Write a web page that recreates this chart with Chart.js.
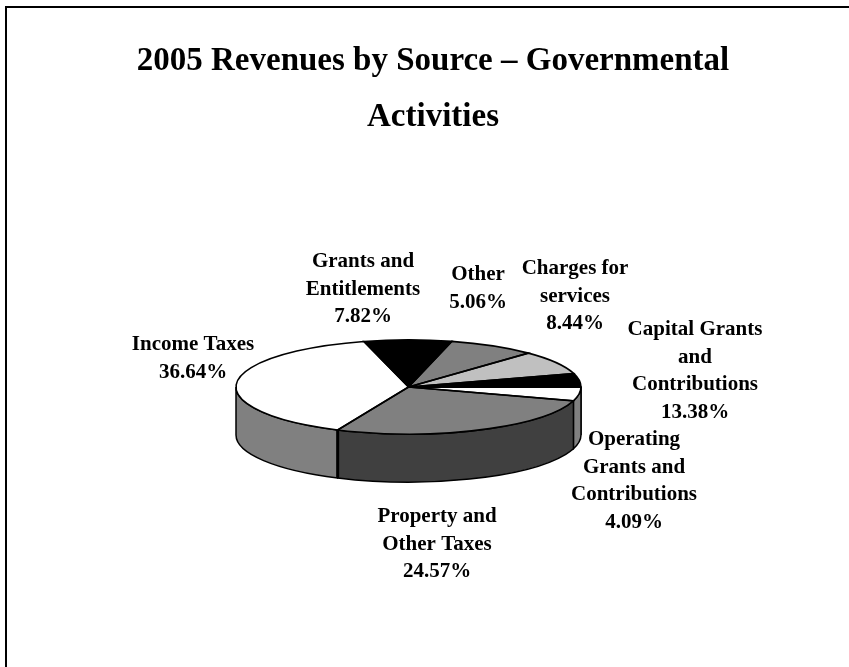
<!DOCTYPE html>
<html>
<head>
<meta charset="utf-8">
<title>2005 Revenues by Source</title>
<script src="https://cdn.jsdelivr.net/npm/chart.js@4/dist/chart.umd.js"></script>
<style>
  html, body { margin: 0; padding: 0; background: #fff; overflow: hidden; }
  #marco { position: absolute; left: 5px; top: 6px; right: 0; bottom: 0; border-left: 2px solid #000; border-top: 2px solid #000; }
  canvas { position: absolute; left: 0; top: 0; }
</style>
</head>
<body>
<div id="marco"></div>
<canvas id="myChart" width="849" height="667"></canvas>
<script>
const titulo = ['2005 Revenues by Source \u2013 Governmental', 'Activities'];

const categorias = ['Grants and Entitlements', 'Other', 'Charges for services', 'Capital Grants and Contributions',
    'Operating Grants and Contributions', 'Property and Other Taxes', 'Income Taxes'];

// percentages as printed in the labels
const porcentajes = ['7.82%', '5.06%', '8.44%', '13.38%', '4.09%', '24.57%', '36.64%'];

// slice sizes as they are drawn in the picture (they do not follow the printed labels)
const valores = [8.2, 8.2, 8.2, 4.6, 4.7, 27.0, 39.1];

const coloresTapa = ['#000000', '#808080', '#c0c0c0', '#000000', '#ffffff', '#808080', '#ffffff'];
const coloresPared = ['#000000', '#808080', '#c0c0c0', '#000000', '#808080', '#404040', '#808080'];

const lineasEtiqueta = [
    ['Grants and', 'Entitlements'],
    ['Other'],
    ['Charges for', 'services'],
    ['Capital Grants', 'and', 'Contributions'],
    ['Operating', 'Grants and', 'Contributions'],
    ['Property and', 'Other Taxes'],
    ['Income Taxes']
];
// centre x and first baseline of each label
const posEtiqueta = [[363, 267], [478, 280], [575, 274], [695, 335], [634, 445], [437, 522], [193, 350]];

const pieX = 408.5;
const pieY = 387;
const radio = 172.5;
const aplastado = 47 / 172;
const alto = 48;

const pie3d = {
    id: 'pie3d',
    beforeDatasetsDraw(chart) {
        const ctx = chart.ctx;
        const arcos = chart.getDatasetMeta(0).data;
        const b = radio * aplastado;

        // side wall, only the front half of the ellipse can be seen
        arcos.forEach((arco, i) => {
            const ini = Math.max(arco.startAngle, 0);
            const fin = Math.min(arco.endAngle, Math.PI);
            if (fin <= ini) return;
            ctx.beginPath();
            ctx.ellipse(pieX, pieY, radio, b, 0, ini, fin);
            ctx.ellipse(pieX, pieY + alto, radio, b, 0, fin, ini, true);
            ctx.closePath();
            ctx.fillStyle = coloresPared[i];
            ctx.fill();
            ctx.lineWidth = 1.5;
            ctx.strokeStyle = '#000';
            ctx.stroke();
            if (i === coloresPared.length - 1) {
                const x = pieX + radio * Math.cos(ini);
                const y = pieY + b * Math.sin(ini);
                ctx.beginPath();
                ctx.moveTo(x, y);
                ctx.lineTo(x, y + alto);
                ctx.lineWidth = 3;
                ctx.stroke();
            }
        });

        // the library draws the slices, flattened into the top face
        const arco0 = arcos[0];
        ctx.save();
        ctx.translate(pieX, pieY);
        ctx.scale(1, aplastado);
        ctx.translate(-arco0.x, -arco0.y);
    },
    afterDatasetsDraw(chart) {
        const ctx = chart.ctx;
        ctx.restore();
        const b = radio * aplastado;
        chart.getDatasetMeta(0).data.forEach((arco) => {
            ctx.beginPath();
            ctx.moveTo(pieX, pieY);
            ctx.ellipse(pieX, pieY, radio, b, 0, arco.startAngle, arco.endAngle);
            ctx.closePath();
            ctx.lineWidth = 1.6;
            ctx.strokeStyle = '#000';
            ctx.stroke();
        });
    },
    afterDraw(chart) {
        const ctx = chart.ctx;
        ctx.save();
        ctx.font = 'bold 21px "Liberation Serif"';
        ctx.fillStyle = '#000';
        ctx.textAlign = 'center';
        ctx.textBaseline = 'alphabetic';
        categorias.forEach((cat, i) => {
            const lineas = lineasEtiqueta[i].concat(porcentajes[i]);
            lineas.forEach((linea, j) => {
                ctx.fillText(linea, posEtiqueta[i][0], posEtiqueta[i][1] + j * 27.5);
            });
        });
        ctx.restore();
    }
};

new Chart(document.getElementById('myChart').getContext('2d'), {
    type: 'pie',
    data: {
        labels: categorias,
        datasets: [{
            data: valores,
            backgroundColor: coloresTapa,
            borderWidth: 0,
            clip: false
        }]
    },
    options: {
        responsive: false,
        animation: false,
        rotation: -15,
        radius: radio,
        layout: { padding: { left: 17, right: 0, top: 33, bottom: 0 } },
        plugins: {
            legend: { display: false },
            tooltip: { enabled: false },
            title: {
                display: true,
                text: titulo,
                color: '#000',
                font: { family: '"Liberation Serif"', size: 33, weight: 'bold', lineHeight: 1.7 },
                padding: { top: 0, bottom: 0 }
            }
        }
    },
    plugins: [pie3d]
});
</script>
</body>
</html>
